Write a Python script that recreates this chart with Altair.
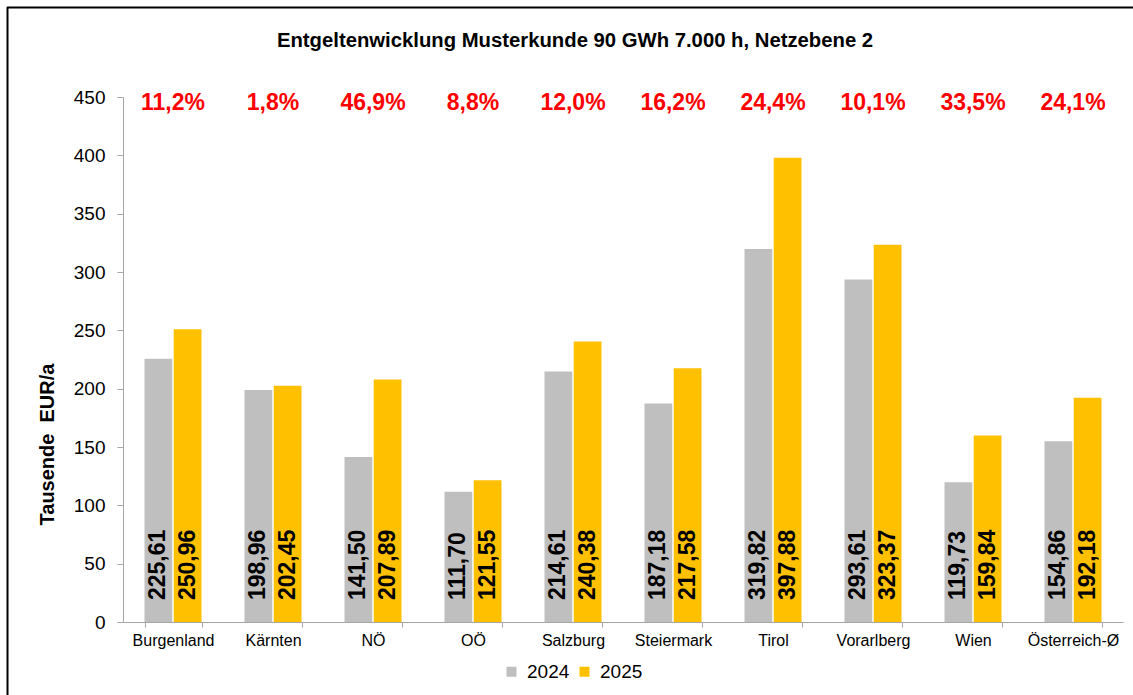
import altair as alt
import pandas as pd

regions = ["Burgenland", "Kärnten", "NÖ", "OÖ", "Salzburg", "Steiermark",
           "Tirol", "Vorarlberg", "Wien", "Österreich-Ø"]
values_2024 = [225.61, 198.96, 141.50, 111.70, 214.61, 187.18, 319.82, 293.61, 119.73, 154.86]
values_2025 = [250.96, 202.45, 207.89, 121.55, 240.38, 217.58, 397.88, 323.37, 159.84, 192.18]
change_pct = [11.2, 1.8, 46.9, 8.8, 12.0, 16.2, 24.4, 10.1, 33.5, 24.1]
years = ["2024", "2025"]
year_colors = ["#BFBFBF", "#FFC000"]
title_text = "Entgeltenwicklung Musterkunde 90 GWh 7.000 h, Netzebene 2"
y_title = "Tausende\u00a0 EUR/a"
y_ticks = list(range(0, 451, 50))
pct_level = [450] * len(regions)


def de(v, d):
    return f"{v:.{d}f}".replace(".", ",")


rows = []
for r, a, b in zip(regions, values_2024, values_2025):
    rows.append({"region": r, "year": years[0], "value": a, "label": de(a, 2)})
    rows.append({"region": r, "year": years[1], "value": b, "label": de(b, 2)})
bars_df = pd.DataFrame(rows)
pct_df = pd.DataFrame({"region": regions,
                       "pct": [de(p, 1) + "%" for p in change_pct],
                       "level": pct_level})
one = pd.DataFrame({"t": [title_text]})

FONT = "Liberation Sans"

x_enc = alt.X("region:N", sort=regions, title=None,
              scale=alt.Scale(paddingInner=0.43, paddingOuter=0.215),
              axis=alt.Axis(tickBand="extent", labelAngle=0, labelFontSize=16,
                            labelColor="black", tickColor="#A6A6A6", tickSize=5,
                            domainColor="#A6A6A6", labelPadding=5))
y_scale = alt.Scale(domain=[0, 450], nice=False)

base = alt.Chart(bars_df)

bars = base.mark_bar().encode(
    x=x_enc,
    xOffset=alt.XOffset("year:N", sort=years, scale=alt.Scale(paddingInner=0.05)),
    y=alt.Y("value:Q", scale=y_scale, title=y_title,
            axis=alt.Axis(values=y_ticks, grid=False, labelFontSize=19,
                          labelColor="black", tickColor="#A6A6A6", tickSize=6,
                          domainColor="#A6A6A6", labelPadding=12,
                          titleFontSize=20, titleFontWeight="bold",
                          titleColor="black", titleAngle=270, titleX=-76,
                          titleY=347, titleAlign="center",
                          titleBaseline="middle")),
    color=alt.Color("year:N", sort=years,
                    scale=alt.Scale(domain=years, range=year_colors),
                    legend=alt.Legend(orient="none", legendX=379, legendY=565,
                                      direction="horizontal", title=None,
                                      symbolType="square", symbolSize=100,
                                      symbolStrokeWidth=0, labelFontSize=19,
                                      labelColor="black", labelOffset=6,
                                      columnPadding=5, padding=0)),
)

value_labels = base.mark_text(angle=270, align="left", baseline="middle",
                              dx=22, fontSize=23, fontWeight="bold",
                              color="black", font=FONT).encode(
    x=alt.X("region:N", sort=regions),
    xOffset=alt.XOffset("year:N", sort=years),
    y=alt.datum(0),
    text="label:N",
)

pct_labels = alt.Chart(pct_df).mark_text(
    baseline="alphabetic", align="center", dy=13, fontSize=23,
    fontWeight="bold", color="#FF0000", font=FONT).encode(
    x=alt.X("region:N", sort=regions),
    y=alt.Y("level:Q"),
    text="pct:N",
)

title_mark = alt.Chart(one).mark_text(
    fontSize=20.3, fontWeight="bold", color="black", font=FONT,
    align="center", baseline="alphabetic").encode(
    x=alt.value(452), y=alt.value(-50), text="t:N")

frame_top = alt.Chart(one).mark_rule(color="black", strokeWidth=2).encode(
    x=alt.value(-116), x2=alt.value(1100), y=alt.value(-89.5))
frame_left = alt.Chart(one).mark_rule(color="black", strokeWidth=2).encode(
    x=alt.value(-115.5), y=alt.value(-90), y2=alt.value(700))

chart = alt.layer(bars, value_labels, pct_labels, title_mark,
                  frame_top, frame_left).properties(
    width=1000, height=525,
    padding={"left": 123, "top": 97, "right": 10, "bottom": 73},
    autosize=alt.AutoSizeParams(type="none"),
    background="white",
).configure(font=FONT).configure_view(strokeWidth=0)

chart.save("out.html", embed_options={"renderer": "svg", "actions": False})
